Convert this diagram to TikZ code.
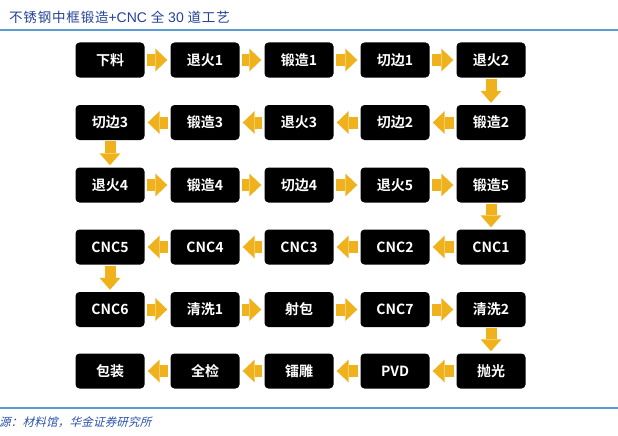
\documentclass[tikz,border=0pt]{standalone}
\usepackage{fontspec}
\usetikzlibrary{arrows.meta,calc}
\newfontfamily\cjkbold{Noto Sans CJK SC Bold}
\newfontfamily\cjkreg[LetterSpace=6]{Noto Sans CJK SC}
\newfontfamily\cjkslant[FakeSlant=0.25,LetterSpace=2]{Noto Sans CJK SC}
\newfontfamily\latsans{Liberation Sans}
\definecolor{arrgold}{RGB}{240,178,28}
\definecolor{titleblue}{RGB}{35,65,150}
\definecolor{ruleblue}{RGB}{91,155,213}
\definecolor{srcblue}{RGB}{40,80,170}
\tikzset{
  stepbox/.style={fill=black, rounded corners=4pt, minimum width=69pt, minimum height=35pt, inner sep=0pt,
    text=white, font=\cjkbold\fontsize{14}{14}\selectfont},
  harr/.style={draw=arrgold, line width=12pt, shorten <=2pt, shorten >=3pt,
    -{Triangle[width=23pt 0, length=12pt 0, line width=0pt]}},
  varr/.style={draw=arrgold, line width=11pt, shorten <=1pt, shorten >=2pt,
    -{Triangle[width=21pt 0, length=12pt 0, line width=0pt]}},
  rulel/.style={draw=ruleblue, line width=1.5pt}
}
\begin{document}
\begin{tikzpicture}[x=1pt,y=-1pt]
\useasboundingbox (0,0) rectangle (618,436);
% title and rules
\node[anchor=west, inner sep=0pt, text=titleblue] (title) at (9,17)
  {\cjkreg\fontsize{13.5}{14}\selectfont 不锈钢中框锻造{\latsans\fontsize{14}{14}\selectfont+CNC} 全 {\latsans\fontsize{14}{14}\selectfont 30} 道工艺};
\coordinate (tl) at (0,30); \coordinate (tr) at (618,30);
\draw[rulel] (tl) -- (tr);
\coordinate (bl) at (0,408); \coordinate (br) at (618,408);
\draw[rulel] (bl) -- (br);
\node[anchor=west, inner sep=0pt, text=srcblue] (src) at (-1,422)
  {\cjkslant\fontsize{11.5}{12}\selectfont 源：材料馆，华金证券研究所};
% boxes
\def\ca{110}\def\cb{205}\def\cc{299}\def\cd{395}\def\ce{491}
\def\ra{60}\def\rb{122.5}\def\rc{185}\def\rd{247}\def\re{309.5}\def\rf{371}
\node[stepbox] (n1) at (\ca,\ra) {下料};
\node[stepbox] (n2) at (\cb,\ra) {退火1};
\node[stepbox] (n3) at (\cc,\ra) {锻造1};
\node[stepbox] (n4) at (\cd,\ra) {切边1};
\node[stepbox] (n5) at (\ce,\ra) {退火2};
\node[stepbox] (n6) at (\ce,\rb) {锻造2};
\node[stepbox] (n7) at (\cd,\rb) {切边2};
\node[stepbox] (n8) at (\cc,\rb) {退火3};
\node[stepbox] (n9) at (\cb,\rb) {锻造3};
\node[stepbox] (n10) at (\ca,\rb) {切边3};
\node[stepbox] (n11) at (\ca,\rc) {退火4};
\node[stepbox] (n12) at (\cb,\rc) {锻造4};
\node[stepbox] (n13) at (\cc,\rc) {切边4};
\node[stepbox] (n14) at (\cd,\rc) {退火5};
\node[stepbox] (n15) at (\ce,\rc) {锻造5};
\node[stepbox] (n16) at (\ce,\rd) {CNC1};
\node[stepbox] (n17) at (\cd,\rd) {CNC2};
\node[stepbox] (n18) at (\cc,\rd) {CNC3};
\node[stepbox] (n19) at (\cb,\rd) {CNC4};
\node[stepbox] (n20) at (\ca,\rd) {CNC5};
\node[stepbox] (n21) at (\ca,\re) {CNC6};
\node[stepbox] (n22) at (\cb,\re) {清洗1};
\node[stepbox] (n23) at (\cc,\re) {射包};
\node[stepbox] (n24) at (\cd,\re) {CNC7};
\node[stepbox] (n25) at (\ce,\re) {清洗2};
\node[stepbox] (n26) at (\ce,\rf) {抛光};
\node[stepbox] (n27) at (\cd,\rf) {PVD};
\node[stepbox] (n28) at (\cc,\rf) {镭雕};
\node[stepbox] (n29) at (\cb,\rf) {全检};
\node[stepbox] (n30) at (\ca,\rf) {包装};
% arrows
\foreach \a/\b in {n1/n2,n2/n3,n3/n4,n4/n5,n11/n12,n12/n13,n13/n14,n14/n15,n21/n22,n22/n23,n23/n24,n24/n25}
  \draw[harr] (\a.east) -- (\b.west);
\foreach \a/\b in {n6/n7,n7/n8,n8/n9,n9/n10,n16/n17,n17/n18,n18/n19,n19/n20,n26/n27,n27/n28,n28/n29,n29/n30}
  \draw[harr] (\a.west) -- (\b.east);
\foreach \a/\b in {n5/n6,n10/n11,n15/n16,n20/n21,n25/n26}
  \draw[varr] (\a.south) -- (\b.north);
\end{tikzpicture}
\end{document}
